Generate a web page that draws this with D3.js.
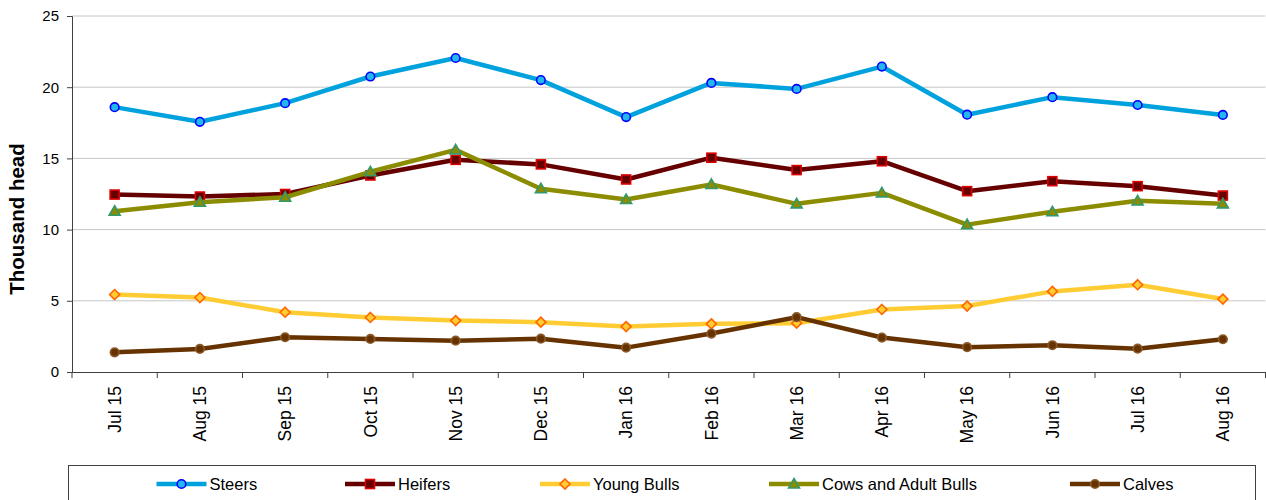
<!DOCTYPE html>
<html><head><meta charset="utf-8">
<script src="https://cdn.jsdelivr.net/npm/d3@7"></script>
<style>
body{margin:0;background:#fff;}
svg{display:block;font-family:"Liberation Sans",Arial,sans-serif;}
</style></head>
<body>
<svg id="chart" width="1266" height="500"></svg>
<script>
const categories = ["Jul 15","Aug 15","Sep 15","Oct 15","Nov 15","Dec 15","Jan 16","Feb 16","Mar 16","Apr 16","May 16","Jun 16","Jul 16","Aug 16"];
const steers = [18.6, 17.57, 18.88, 20.75, 22.05, 20.5, 17.9, 20.3, 19.88, 21.45, 18.07, 19.3, 18.75, 18.05];
const heifers = [12.46, 12.32, 12.5, 13.8, 14.9, 14.58, 13.52, 15.05, 14.18, 14.8, 12.7, 13.4, 13.05, 12.39];
const youngBulls = [5.44, 5.23, 4.2, 3.83, 3.61, 3.5, 3.19, 3.38, 3.43, 4.39, 4.63, 5.66, 6.13, 5.12];
const cowsAdultBulls = [11.29, 11.92, 12.27, 14.06, 15.6, 12.87, 12.11, 13.17, 11.81, 12.58, 10.35, 11.25, 12.02, 11.81];
const calves = [1.38, 1.62, 2.44, 2.32, 2.2, 2.34, 1.71, 2.7, 3.85, 2.42, 1.74, 1.88, 1.64, 2.3];
const yTicks = [0, 5, 10, 15, 20, 25];
const yTitle = "Thousand head";

const series = [
  {name:"Steers", values:steers, line:"#00a2de", mark:"circle", mfill:"#22b8ee", mstroke:"#0000ff"},
  {name:"Heifers", values:heifers, line:"#660000", mark:"square", mfill:"#660000", mstroke:"#dd0000"},
  {name:"Young Bulls", values:youngBulls, line:"#ffcc33", mark:"diamond", mfill:"#ffcc33", mstroke:"#ff6600"},
  {name:"Cows and Adult Bulls", values:cowsAdultBulls, line:"#8c8c00", mark:"triangle", mfill:"#8c8c00", mstroke:"#33996a"},
  {name:"Calves", values:calves, line:"#663300", mark:"circle", mfill:"#663300", mstroke:"#8a5a2a"}
];

const svg = d3.select("#chart");
const plotL = 72, plotR = 1265.5, plotT = 16, plotB = 372;
const x = d3.scaleBand().domain(categories).range([plotL, plotR]);
const y = d3.scaleLinear().domain([0, 25]).range([plotB, plotT]);

// gridlines
svg.append("g").selectAll("line").data(yTicks.filter(d => d > 0)).join("line")
  .attr("x1", plotL).attr("x2", plotR)
  .attr("y1", d => y(d)).attr("y2", d => y(d))
  .attr("stroke", "#c6c6c6").attr("stroke-width", 1);

// y axis
const yAxis = svg.append("g").attr("transform", `translate(${plotL},0)`)
  .call(d3.axisLeft(y).tickValues(yTicks).tickSize(5).tickPadding(8).tickFormat(d3.format("d")));
yAxis.select(".domain").attr("stroke", "#404040");
yAxis.selectAll(".tick line").attr("stroke", "#404040");
yAxis.selectAll("text").attr("font-size", "15px").attr("fill", "#000")
  .attr("font-family", "Liberation Sans, Arial, sans-serif");

// x axis
const xAxis = svg.append("g").attr("transform", `translate(0,${plotB})`)
  .call(d3.axisBottom(x).tickSize(0).tickFormat(d => d));
xAxis.select(".domain").attr("stroke", "#404040").attr("d", `M${plotL},0.5H${plotR}`);
xAxis.selectAll(".tick text")
  .attr("font-size", "17.5px").attr("fill", "#000")
  .attr("font-family", "Liberation Sans, Arial, sans-serif")
  .attr("transform", "rotate(-90)")
  .attr("text-anchor", "end")
  .attr("x", -14).attr("y", 0).attr("dy", "0.36em");
// boundary tick marks
const bounds = categories.map(c => x(c)).concat([x(categories[categories.length-1]) + x.bandwidth()]);
xAxis.append("g").selectAll("line").data(bounds).join("line")
  .attr("x1", d => d).attr("x2", d => d).attr("y1", 0).attr("y2", 6)
  .attr("stroke", "#404040");

// y title
svg.append("text")
  .attr("transform", `translate(24,219) rotate(-90)`)
  .attr("text-anchor", "middle")
  .attr("font-size", "20.5px").attr("font-weight", "bold")
  .attr("fill", "#000")
  .text(yTitle);

function drawMarker(g, type, cx, cy, s) {
  let el;
  if (type === "circle") {
    el = g.append("circle").attr("cx", cx).attr("cy", cy).attr("r", 4.3);
  } else if (type === "square") {
    el = g.append("rect").attr("x", cx - 4.5).attr("y", cy - 4.5).attr("width", 9).attr("height", 9);
  } else if (type === "diamond") {
    el = g.append("path").attr("d", `M${cx},${cy-5}L${cx+5},${cy}L${cx},${cy+5}L${cx-5},${cy}Z`);
  } else {
    el = g.append("path").attr("d", `M${cx},${cy-5.5}L${cx+5.5},${cy+4}L${cx-5.5},${cy+4}Z`);
  }
  el.attr("fill", s.mfill).attr("stroke", s.mstroke).attr("stroke-width", 1.6);
}

const lineGen = d3.line().x((d, i) => x(categories[i]) + x.bandwidth() / 2).y(d => y(d));

series.forEach(s => {
  const g = svg.append("g");
  g.append("path").attr("d", lineGen(s.values))
    .attr("fill", "none").attr("stroke", s.line).attr("stroke-width", 4.5)
    .attr("stroke-linejoin", "round");
  s.values.forEach((v, i) => drawMarker(g, s.mark, x(categories[i]) + x.bandwidth() / 2, y(v), s));
});

// legend
const lg = svg.append("g");
lg.append("rect").attr("x", 68.5).attr("y", 465.5).attr("width", 1187).attr("height", 60)
  .attr("fill", "#fff").attr("stroke", "#404040").attr("stroke-width", 1);
const legendX = [156.5, 345, 540, 769, 1070];
series.forEach((s, i) => {
  const lx = legendX[i], ly = 484;
  lg.append("line").attr("x1", lx).attr("x2", lx + 50).attr("y1", ly).attr("y2", ly)
    .attr("stroke", s.line).attr("stroke-width", 4.5);
  drawMarker(lg, s.mark, lx + 25, ly, s);
  lg.append("text").attr("x", lx + 53).attr("y", ly).attr("dy", "0.36em")
    .attr("font-size", "16.5px").attr("fill", "#000").text(s.name);
});
</script>
</body></html>
